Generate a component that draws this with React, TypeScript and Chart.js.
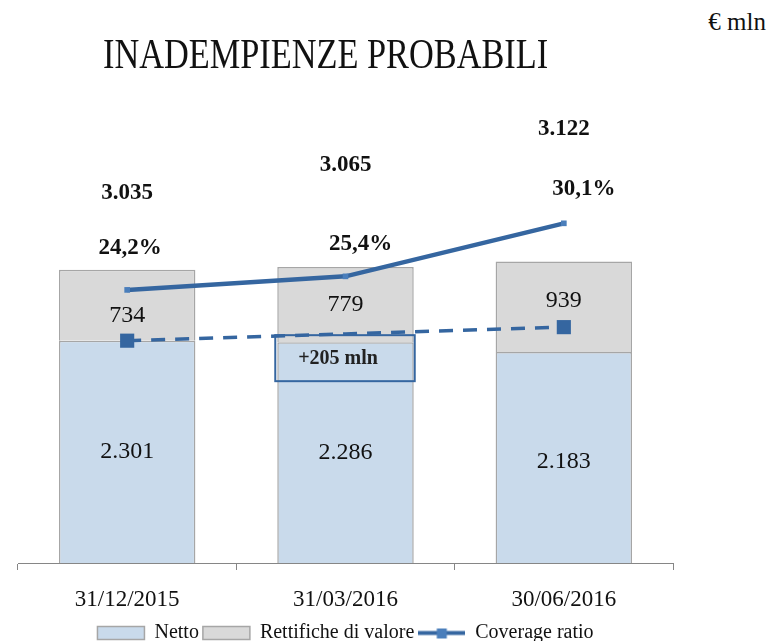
import React, { useEffect, useRef } from 'react';
import { Chart, registerables } from 'chart.js';

Chart.register(...registerables);

const categories = ['31/12/2015', '31/03/2016', '30/06/2016'];
const netto = [2301, 2286, 2183];
const rettifiche = [734, 779, 939];
const totals = [3035, 3065, 3122];
const coverageRatio = [24.2, 25.4, 30.1];
const coverageTrend = [19.7, 20.3, 20.9];
const deltaLabel = '+205 mln';
const titleText = 'INADEMPIENZE PROBABILI';
const unitText = '€ mln';

const FONT = '"Liberation Serif", "Times New Roman", serif';
const BLUE = '#3566a0';
const MARKER = '#4a7ebb';
const NETTO_FILL = '#c9daeb';
const RETT_FILL = '#d9d9d9';
const BAR_BORDER = '#a6a6a6';
const TEXT = '#111111';

// label placement (styling only)
const totalOffsets = [77, 102, 132];
const pctDx = [3, 15, 20];
const pctDy = [-42, -32, -34];
const segDy = [[0, 0, 4], [10, 0, -6]];

const fmtInt = (v: number) => String(v).replace(/\B(?=(\d{3})+(?!\d))/g, '.');
const fmtPct = (v: number) => v.toFixed(1).replace('.', ',') + '%';

function makeLegendLine(): HTMLCanvasElement {
  const c = document.createElement('canvas');
  c.width = 47;
  c.height = 13;
  const g = c.getContext('2d')!;
  g.strokeStyle = BLUE;
  g.lineWidth = 4;
  g.beginPath();
  g.moveTo(0, 6.5);
  g.lineTo(47, 6.5);
  g.stroke();
  g.fillStyle = MARKER;
  g.fillRect(18.5, 2, 10, 10);
  return c;
}

const labelsPlugin = {
  id: 'customLabels',
  afterDatasetsDraw(chart: any) {
    const ctx = chart.ctx as CanvasRenderingContext2D;
    const mN = chart.getDatasetMeta(0);
    const mR = chart.getDatasetMeta(1);
    const mC = chart.getDatasetMeta(2);
    ctx.save();
    ctx.textAlign = 'center';
    ctx.textBaseline = 'middle';
    ctx.fillStyle = TEXT;

    ctx.font = `24px ${FONT}`;
    mN.data.forEach((el: any, i: number) => {
      const p = el.getProps(['x', 'y', 'base'], true);
      ctx.fillText(fmtInt(netto[i]), p.x, (p.y + p.base) / 2 + segDy[0][i]);
    });
    mR.data.forEach((el: any, i: number) => {
      const p = el.getProps(['x', 'y', 'base'], true);
      ctx.fillText(fmtInt(rettifiche[i]), p.x, (p.y + p.base) / 2 + segDy[1][i]);
    });

    ctx.font = `bold 23px ${FONT}`;
    mR.data.forEach((el: any, i: number) => {
      const p = el.getProps(['x', 'y'], true);
      ctx.fillText(fmtInt(totals[i]), p.x, p.y - totalOffsets[i]);
    });
    mC.data.forEach((el: any, i: number) => {
      const p = el.getProps(['x', 'y'], true);
      ctx.fillText(fmtPct(coverageRatio[i]), p.x + pctDx[i], p.y + pctDy[i]);
    });

    // +205 mln box on the second bar
    const b = mN.data[1].getProps(['x', 'y', 'width'], true);
    const left = b.x - b.width / 2 - 2;
    const right = b.x + b.width / 2 + 1;
    const top = b.y - 7;
    const bottom = top + 46;
    ctx.strokeStyle = BLUE;
    ctx.lineWidth = 2;
    ctx.strokeRect(left, top, right - left, bottom - top);
    ctx.font = `bold 20px ${FONT}`;
    ctx.fillStyle = '#222';
    ctx.fillText(deltaLabel, (left + right) / 2 - 7, (top + bottom) / 2 + 1);
    ctx.restore();
  },
};

export default function App() {
  const ref = useRef<HTMLCanvasElement>(null);

  useEffect(() => {
    if (!ref.current) return;
    const legendLine = makeLegendLine();
    const chart = new Chart(ref.current, {
      type: 'bar',
      data: {
        labels: categories,
        datasets: [
          {
            type: 'bar',
            label: 'Netto',
            data: netto,
            backgroundColor: NETTO_FILL,
            borderColor: BAR_BORDER,
            borderWidth: 1.5,
            pointStyle: 'rect',
            stack: 's',
            order: 3,
          } as any,
          {
            type: 'bar',
            label: 'Rettifiche di valore',
            data: rettifiche,
            backgroundColor: RETT_FILL,
            borderColor: BAR_BORDER,
            borderWidth: 1.5,
            pointStyle: 'rect',
            stack: 's',
            order: 3,
          },
          {
            type: 'line',
            label: 'Coverage ratio',
            data: coverageRatio,
            yAxisID: 'y2',
            borderColor: BLUE,
            backgroundColor: BLUE,
            borderWidth: 4.5,
            pointStyle: 'rect',
            pointRadius: 4,
            pointBackgroundColor: MARKER,
            pointBorderWidth: 0,
            tension: 0,
            order: 1,
          },
          {
            type: 'line',
            label: 'trend',
            data: coverageTrend,
            yAxisID: 'y2',
            borderColor: BLUE,
            backgroundColor: BLUE,
            borderWidth: 3.5,
            borderDash: [14, 10],
            pointStyle: 'rect',
            pointRadius: [10, 0, 10],
            pointBackgroundColor: BLUE,
            pointBorderWidth: 0,
            tension: 0,
            order: 2,
          },
        ],
      },
      options: {
        responsive: true,
        maintainAspectRatio: false,
        animation: false,
        layout: { padding: { top: 80, left: 18, right: 21, bottom: 0 } },
        datasets: { bar: { categoryPercentage: 1, barPercentage: 0.625 } },
        scales: {
          x: {
            stacked: true,
            grid: {
              display: true,
              drawOnChartArea: false,
              drawTicks: true,
              tickLength: 7,
              color: '#868686',
              offset: true,
            },
            border: { display: true, color: '#868686', width: 1 },
            ticks: { font: { family: FONT, size: 23 }, color: TEXT, padding: 16 },
            afterFit: (scale: any) => {
              scale.height = 56;
            },
          },
          y: { stacked: true, display: false, min: 0, max: 5000 },
          y2: { display: false, min: 0, max: 42.8, position: 'right' },
        },
        plugins: {
          tooltip: { enabled: false },
          legend: {
            position: 'bottom',
            labels: {
              font: { family: FONT, size: 20 },
              color: TEXT,
              usePointStyle: true,
              pointStyleWidth: 47,
              boxWidth: 47,
              boxHeight: 13,
              padding: 4,
              filter: (item: any) => item.datasetIndex !== 3,
              sort: (a: any, b: any) => a.datasetIndex - b.datasetIndex,
              generateLabels: (c: any) => {
                const items = Chart.defaults.plugins.legend.labels.generateLabels(c);
                return items.map((it: any) => {
                  if (it.datasetIndex === 2) {
                    return { ...it, pointStyle: legendLine, lineWidth: 0 };
                  }
                  return { ...it, pointStyle: 'rect', lineWidth: 1.5 };
                });
              },
            },
          },
        },
      },
      plugins: [labelsPlugin],
    });
    return () => chart.destroy();
  }, []);

  return (
    <div
      style={{
        position: 'fixed',
        left: 0,
        top: 0,
        width: 770,
        height: 641,
        overflow: 'hidden',
        background: '#fff',
        fontFamily: FONT,
      }}
    >
      <div style={{ position: 'absolute', left: 0, top: 0, width: 694, height: 653 }}>
        <canvas ref={ref} />
      </div>
      <div
        style={{
          position: 'absolute',
          left: 103,
          top: 33,
          fontSize: 42,
          lineHeight: '42px',
          color: TEXT,
          whiteSpace: 'nowrap',
          transform: 'scaleX(0.817)',
          transformOrigin: 'left top',
        }}
      >
        {titleText}
      </div>
      <div
        style={{
          position: 'absolute',
          right: 4,
          top: 9,
          fontSize: 25,
          lineHeight: '26px',
          color: TEXT,
          whiteSpace: 'nowrap',
        }}
      >
        {unitText}
      </div>
    </div>
  );
}
